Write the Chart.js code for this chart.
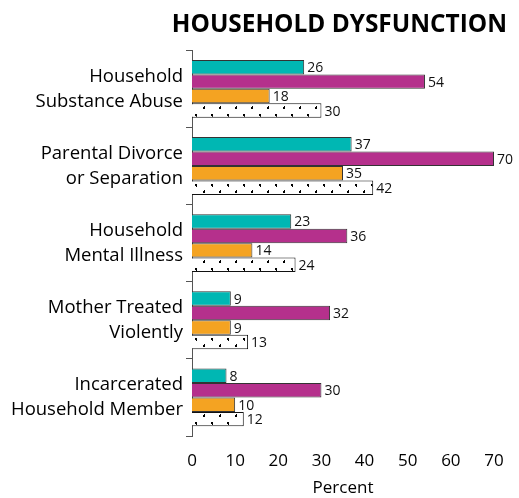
<!DOCTYPE html>
<html>
<head>
<meta charset="utf-8">
<script src="https://cdn.jsdelivr.net/npm/chart.js@4"></script>
<style>
  html, body { margin: 0; padding: 0; background: #fff; }
  #wrap { width: 519px; height: 498px; }
</style>
</head>
<body>
<div id="wrap"><canvas id="hdChart" width="519" height="498"></canvas></div>
<script>
const categories = [
    ['Household', 'Substance Abuse'],
    ['Parental Divorce', 'or Separation'],
    ['Household', 'Mental Illness'],
    ['Mother Treated', 'Violently'],
    ['Incarcerated', 'Household Member']
];
const seriesTeal = [26, 37, 23, 9, 8];
const seriesMagenta = [54, 70, 36, 32, 30];
const seriesOrange = [18, 35, 14, 9, 10];
const seriesDotted = [30, 42, 24, 13, 12];
const xTicks = [0, 10, 20, 30, 40, 50, 60, 70];

const FONT = "'Open Sans', 'DejaVu Sans', sans-serif";

function makeDotPattern() {
    const c = document.createElement('canvas');
    c.width = 16;
    c.height = 14;
    const g = c.getContext('2d');
    g.fillStyle = '#fff';
    g.fillRect(0, 0, 16, 14);
    g.fillStyle = '#000';
    // small arrow-like marks, two staggered rows
    g.fillRect(3, 2, 2, 2);
    g.fillRect(4, 4, 1, 1);
    g.fillRect(11, 9, 2, 2);
    g.fillRect(12, 8, 1, 1);
    return g.createPattern(c, 'repeat');
}

// draws the number at the end of each bar
const valueLabels = {
    id: 'valueLabels',
    afterDatasetsDraw(chart) {
        const ctx = chart.ctx;
        ctx.save();
        ctx.font = '14px ' + FONT;
        ctx.fillStyle = '#111';
        ctx.textBaseline = 'middle';
        ctx.textAlign = 'left';
        chart.data.datasets.forEach((ds, i) => {
            chart.getDatasetMeta(i).data.forEach((bar, j) => {
                ctx.fillText(ds.data[j], bar.x + 3, bar.y + 1);
            });
        });
        ctx.restore();
    }
};

const ctx = document.getElementById('hdChart').getContext('2d');
new Chart(ctx, {
    type: 'bar',
    data: {
        labels: categories,
        datasets: [
            { data: seriesTeal, backgroundColor: '#00B7B3', borderColor: '#333', borderWidth: 1 },
            { data: seriesMagenta, backgroundColor: '#B5308C', borderColor: '#333', borderWidth: 1 },
            { data: seriesOrange, backgroundColor: '#F4A322', borderColor: '#333', borderWidth: 1 },
            { data: seriesDotted, backgroundColor: makeDotPattern(), borderColor: '#111', borderWidth: 1 }
        ]
    },
    options: {
        indexAxis: 'y',
        responsive: false,
        animation: false,
        categoryPercentage: 0.75,
        barPercentage: 1,
        layout: { padding: { left: 0, right: 12, top: 10, bottom: 0 } },
        plugins: {
            legend: { display: false },
            tooltip: { enabled: false },
            title: {
                display: true,
                text: 'HOUSEHOLD DYSFUNCTION',
                align: 'end',
                color: '#000',
                font: { family: FONT, size: 24.4, weight: 'bold' },
                padding: { top: 0, bottom: 11 }
            }
        },
        scales: {
            x: {
                min: 0,
                max: 70,
                afterBuildTicks: axis => { axis.ticks = xTicks.map(v => ({ value: v })); },
                afterFit: axis => { axis.height = 62; },
                grid: { display: false, drawTicks: false },
                border: { display: false },
                ticks: { color: '#000', padding: 15, font: { family: FONT, size: 17 } },
                title: { display: true, text: 'Percent', color: '#000', padding: { top: 4, bottom: 0 }, font: { family: FONT, size: 17 } }
            },
            y: {
                afterFit: axis => { axis.width = 192; },
                grid: { drawOnChartArea: false, drawTicks: true, tickLength: 6, color: '#555' },
                border: { display: true, color: '#555', width: 1 },
                ticks: { color: '#000', padding: 3, font: { family: FONT, size: 18.5, lineHeight: 1.35 } }
            },
            // empty strip on the right so the title can run past the plot edge
            yRight: {
                type: 'category',
                position: 'right',
                afterFit: axis => { axis.width = 13; },
                grid: { display: false },
                border: { display: false },
                ticks: { display: false }
            }
        }
    },
    plugins: [valueLabels]
});
</script>
</body>
</html>
